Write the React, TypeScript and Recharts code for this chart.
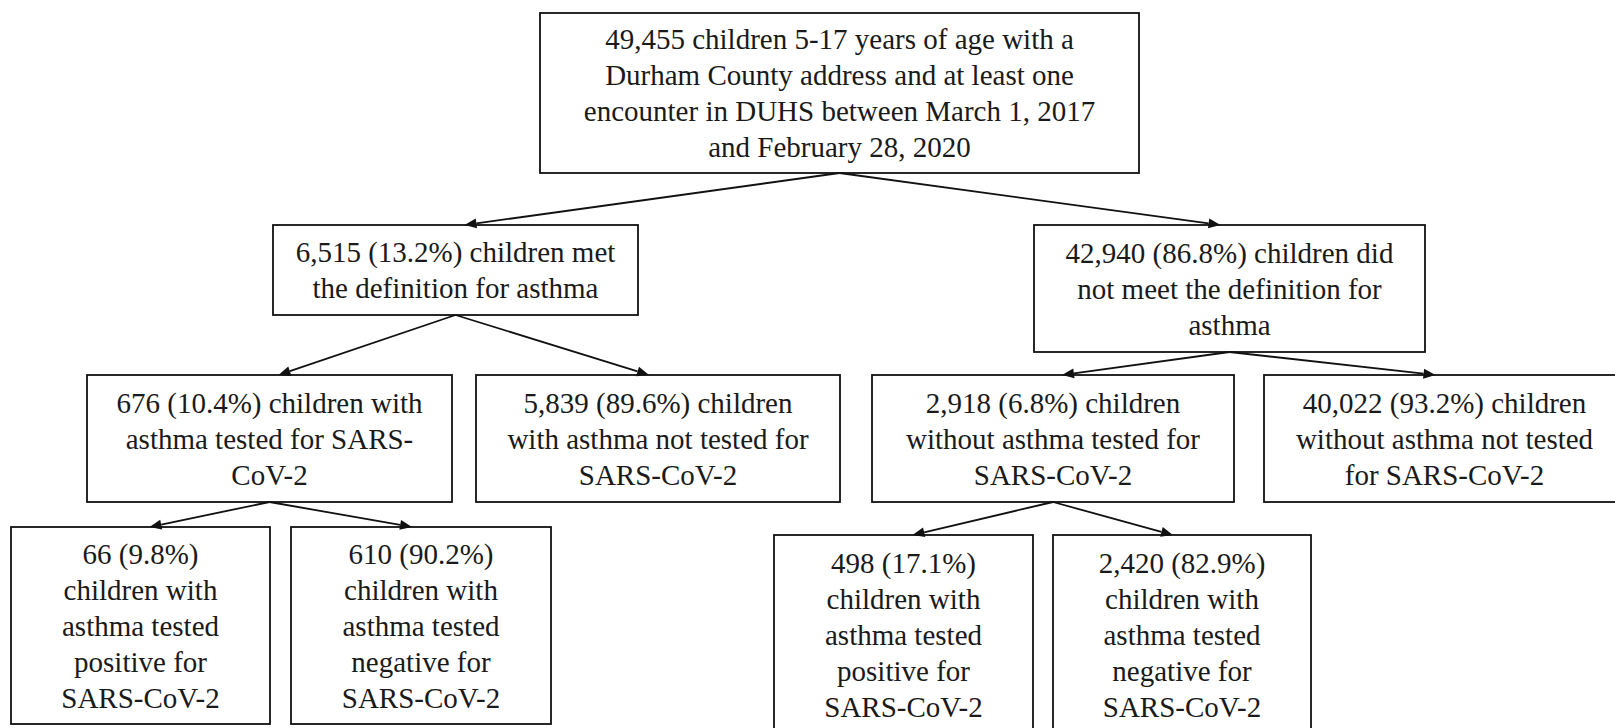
import React from "react";
import {
  ScatterChart,
  Scatter,
  XAxis,
  YAxis,
  ReferenceArea,
  ReferenceLine,
} from "recharts";

// cohort counts, share of parent group (%), and tree links
const counts = [49455, 6515, 42940, 676, 5839, 2918, 40022, 66, 610, 498, 2420];
const shares = [null, 13.2, 86.8, 10.4, 89.6, 6.8, 93.2, 9.8, 90.2, 17.1, 82.9];
const parentOf = [-1, 0, 0, 1, 1, 2, 2, 3, 3, 5, 5];

// text following the "count (share%)" head, one entry per line
const labelTails: string[][] = [
  [
    " children 5-17 years of age with a",
    "Durham County address and at least one",
    "encounter in DUHS between March 1, 2017",
    "and February 28, 2020",
  ],
  [" children met", "the definition for asthma"],
  [" children did", "not meet the definition for", "asthma"],
  [" children with", "asthma tested for SARS-", "CoV-2"],
  [" children", "with asthma not tested for", "SARS-CoV-2"],
  [" children", "without asthma tested for", "SARS-CoV-2"],
  [" children", "without asthma not tested", "for SARS-CoV-2"],
  ["", "children with", "asthma tested", "positive for", "SARS-CoV-2"],
  ["", "children with", "asthma tested", "negative for", "SARS-CoV-2"],
  ["", "children with", "asthma tested", "positive for", "SARS-CoV-2"],
  ["", "children with", "asthma tested", "negative for", "SARS-CoV-2"],
];

// box layout in axis units: [left, right, top, bottom]
const boxLayout: [number, number, number, number][] = [
  [540, 1139, 13, 173],
  [273, 638, 225, 315],
  [1034, 1425, 225, 352],
  [87, 452, 375, 502],
  [476, 840, 375, 502],
  [872, 1234, 375, 502],
  [1264, 1625, 375, 502],
  [11, 270, 527, 724],
  [291, 551, 527, 724],
  [774, 1033, 535, 735],
  [1053, 1311, 535, 735],
];

const W = 1615;
const H = 728;
const FONT = '"Liberation Serif", "Times New Roman", Tinos, "DejaVu Serif", serif';
const INK = "#111";
const LINE_GAP = 36;
const TIP_SHIFT = 9;

const fmt = (n: number) => n.toLocaleString("en-US");

const labelLines = counts.map((c, i) => {
  const head = shares[i] == null ? fmt(c) : `${fmt(c)} (${shares[i]!.toFixed(1)}%)`;
  const tails = labelTails[i];
  return [head + tails[0], ...tails.slice(1)];
});

const centers = boxLayout.map(([l, r, t, b]) => ({ x: (l + r) / 2, y: (t + b) / 2 }));

const arrows = parentOf
  .map((p, i) => {
    if (p < 0) return null;
    const from = { x: centers[p].x, y: boxLayout[p][3] };
    const dir = Math.sign(centers[p].x - centers[i].x);
    const to = { x: centers[i].x + dir * TIP_SHIFT, y: boxLayout[i][2] };
    return { id: i, from, to };
  })
  .filter(Boolean) as { id: number; from: { x: number; y: number }; to: { x: number; y: number } }[];

function makeBox(lines: string[]) {
  return (props: any) => {
    const { x, y, width, height } = props;
    const cx = x + width / 2;
    const cy = y + height / 2;
    const y0 = cy - ((lines.length - 1) * LINE_GAP) / 2;
    return (
      <g>
        <rect x={x} y={y} width={width} height={height} fill="#fff" stroke={INK} strokeWidth={1.8} />
        {lines.map((ln, k) => (
          <text
            key={k}
            x={cx}
            y={y0 + k * LINE_GAP}
            textAnchor="middle"
            dominantBaseline="central"
            style={{ fontFamily: FONT, fontSize: 29 }}
            fill="#1a1a1a"
          >
            {ln}
          </text>
        ))}
      </g>
    );
  };
}

function Arrow(props: any) {
  const { x1, y1, x2, y2 } = props;
  const dx = x2 - x1;
  const dy = y2 - y1;
  const len = Math.hypot(dx, dy);
  const ux = dx / len;
  const uy = dy / len;
  const headL = 12;
  const headW = 5;
  const bx = x2 - ux * headL;
  const by = y2 - uy * headL;
  const pts = [
    `${x2},${y2}`,
    `${bx - uy * headW},${by + ux * headW}`,
    `${bx + uy * headW},${by - ux * headW}`,
  ].join(" ");
  return (
    <g>
      <line x1={x1} y1={y1} x2={bx} y2={by} stroke={INK} strokeWidth={1.8} />
      <polygon points={pts} fill={INK} />
    </g>
  );
}

export default function App() {
  return (
    <div style={{ position: "absolute", left: 0, top: 0, width: W, height: H, background: "#fff", fontFamily: FONT }}>
      <ScatterChart width={W} height={H} margin={{ top: 0, right: 0, bottom: 0, left: 0 }}>
        <XAxis type="number" dataKey="x" domain={[0, W]} hide allowDataOverflow />
        <YAxis type="number" dataKey="y" domain={[0, H]} reversed hide allowDataOverflow />
        <Scatter data={centers} isAnimationActive={false} shape={() => <g />} />
        {arrows.map((a) => (
          <ReferenceLine
            key={`arrow-${a.id}`}
            segment={[a.from, a.to]}
            ifOverflow="visible"
            shape={Arrow}
          />
        ))}
        {boxLayout.map(([l, r, t, b], i) => (
          <ReferenceArea
            key={`box-${i}`}
            x1={l}
            x2={r}
            y1={t}
            y2={b}
            ifOverflow="visible"
            shape={makeBox(labelLines[i])}
          />
        ))}
      </ScatterChart>
    </div>
  );
}
